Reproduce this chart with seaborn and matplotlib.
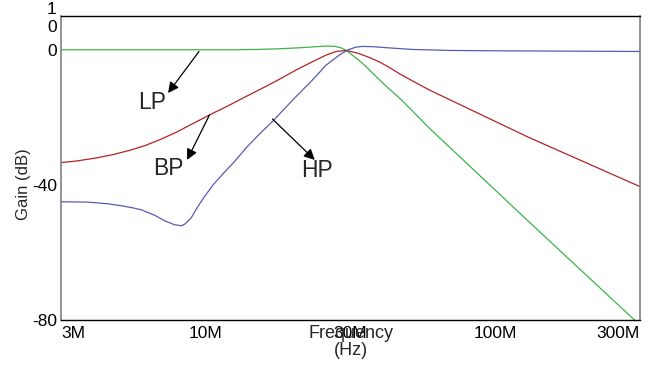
import matplotlib
matplotlib.use('Agg')
import matplotlib.pyplot as plt
import seaborn as sns
import numpy as np
import pandas as pd

# frequency in MHz, gain in dB
lp_freq = [3.16, 6.0, 9.5, 12.7, 15.0, 18.0, 21.1, 24.0, 26.1, 28.0, 29.5, 30.6, 32.1, 34.0, 35.8,
           38.3, 42.0, 46.7, 52.0, 59.2, 131, 316]
lp_gain = [0.0, 0.0, 0.0, 0.0, 0.1, 0.3, 0.6, 0.9, 1.1, 1.0, 0.5, -0.2, -1.6, -3.3, -5.0,
           -7.5, -10.8, -14.3, -18.3, -23.2, -51.0, -81.5]

bp_freq = [3.16, 3.6, 4.2, 4.8, 5.5, 6.2, 7.0, 8.0, 9.0, 10.3, 12.0, 13.8, 16.0, 18.0, 20.5,
           23.4, 26.0, 28.2, 30.6, 33.5, 36.8, 39.8, 43.0, 46.7, 52.0, 59.2, 131, 316]
bp_gain = [-33.4, -32.9, -32.0, -31.0, -29.7, -28.3, -26.5, -24.2, -21.9, -19.3, -16.5, -13.8, -11.0, -8.7, -6.0,
           -3.5, -1.6, -0.5, -0.2, -1.0, -2.3, -3.6, -5.2, -7.1, -9.3, -11.9, -26.0, -40.5]

hp_freq = [3.16, 3.93, 4.6, 5.13, 5.6, 6.0, 6.67, 7.2, 7.8, 8.25, 8.5, 8.9, 9.3, 9.8, 10.6,
           11.5, 12.6, 13.8, 15.3, 17.1, 20.0, 23.4, 26.0, 29.0, 31.0, 33.1, 34.8, 38.0, 44.0,
           51.7, 70.0, 100, 316]
hp_gain = [-45.0, -45.1, -45.6, -46.2, -46.8, -47.4, -49.0, -50.6, -51.8, -52.1, -51.5, -49.8, -47.0, -44.0, -40.0,
           -36.6, -33.0, -29.0, -25.0, -21.0, -14.8, -8.9, -4.6, -1.5, 0.0, 0.8, 1.0, 0.9, 0.5,
           0.1, -0.2, -0.3, -0.5]

x_ticks = [10 ** 0.5, 10, 10 ** 1.5, 100, 10 ** 2.5]
x_ticklabels = ['3M', '10M', '30M', '100M', '300M']
y_ticks = [10, 0, -40, -80]
y_ticklabels = ['1\n0', '0', '-40', '-80']

df = pd.concat([
    pd.DataFrame({'freq': lp_freq, 'gain': lp_gain, 'filter': 'LP'}),
    pd.DataFrame({'freq': bp_freq, 'gain': bp_gain, 'filter': 'BP'}),
    pd.DataFrame({'freq': hp_freq, 'gain': hp_gain, 'filter': 'HP'}),
])

sns.set_style('white')
plt.rcParams['font.family'] = ['Liberation Sans', 'DejaVu Sans']

fig = plt.figure(figsize=(6.55, 3.65), dpi=100)
ax = fig.add_axes([61 / 655, 1 - 320 / 365, 579 / 655, 304 / 365])

palette = {'LP': '#3cb44a', 'BP': '#b02428', 'HP': '#5a5ab0'}
sns.lineplot(data=df, x='freq', y='gain', hue='filter', palette=palette,
             linewidth=0.9, legend=False, sort=False, ax=ax)

ax.set_xscale('log')
ax.set_xlim(10 ** 0.5, 10 ** 2.5)
ax.set_ylim(-80, 10)
ax.minorticks_off()
ax.set_xticks(x_ticks)
ax.set_xticklabels(x_ticklabels, fontsize=12.5)
ax.set_yticks(y_ticks)
ax.set_yticklabels(y_ticklabels, fontsize=12.5, linespacing=1.2)
labels = ax.get_xticklabels()
labels[0].set_ha('left')
labels[-1].set_ha('right')

ax.tick_params(axis='x', direction='in', length=4, width=0.8, pad=4, colors='black')
ax.tick_params(axis='y', direction='out', length=3, width=0.8, pad=0, colors='black')

for side in ['top', 'bottom']:
    ax.spines[side].set_color('black')
    ax.spines[side].set_linewidth(1.0)
for side in ['left', 'right']:
    ax.spines[side].set_color('#808080')
    ax.spines[side].set_linewidth(1.2)

ax.set_xlabel('Frequency\n(Hz)', fontsize=13, linespacing=1.05)
ax.xaxis.set_label_coords(0.5, -0.015)
ax.set_ylabel('Gain (dB)', fontsize=12)
ax.yaxis.set_label_coords(-0.052, 0.447)

# arrow annotations
arrow = dict(arrowstyle='-|>', color='black', lw=0.9, mutation_scale=16, shrinkA=0, shrinkB=0)
ax.annotate('', xy=(7.41, -12.8), xytext=(9.48, -0.5), arrowprops=arrow)
ax.annotate('', xy=(8.62, -32.6), xytext=(10.3, -19.3), arrowprops=arrow)
ax.annotate('', xy=(23.8, -32.6), xytext=(17.0, -20.5), arrowprops=arrow)
ax.text(6.51, -15.6, 'LP', ha='center', va='center', fontsize=16.5)
ax.text(7.45, -35.2, 'BP', ha='center', va='center', fontsize=16.5)
ax.text(24.2, -35.8, 'HP', ha='center', va='center', fontsize=16.5)

fig.savefig('out.png', dpi=100)
plt.close(fig)
